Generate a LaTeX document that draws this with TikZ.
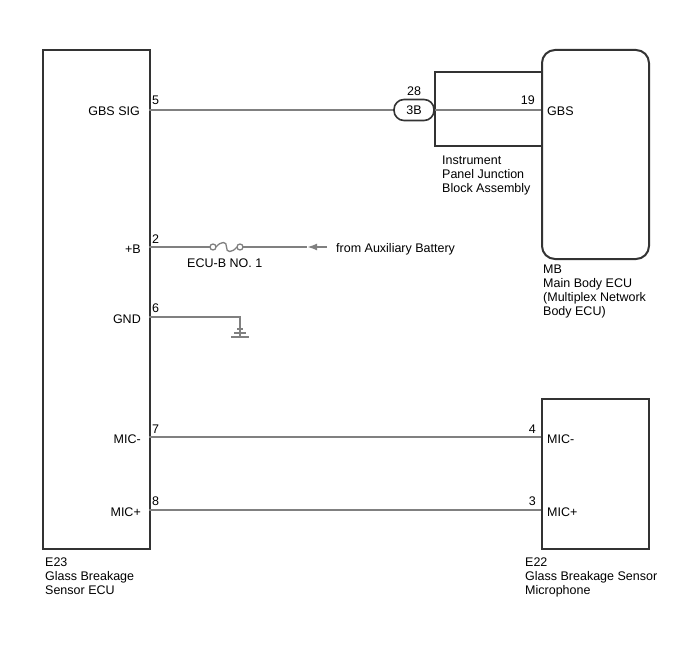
\documentclass[tikz,border=0pt]{standalone}
\usepackage{fontspec}
\setmainfont{Liberation Sans}
\usetikzlibrary{arrows.meta}
\begin{document}
\begin{tikzpicture}[x=1pt,y=-1pt,
  font=\fontsize{12.5}{14.3}\selectfont,
  box/.style={draw=black!80, line width=2pt, inner sep=0pt, anchor=north west},
  wire/.style={draw=black!50, line width=2pt},
  txt/.style={inner sep=0pt, text=black},
  lbl/.style={txt, anchor=base west, align=left}]
\useasboundingbox (0,0) rectangle (688,658);
% boxes
\node[box, minimum width=107pt, minimum height=499pt] (E23) at (42,49) {};
\node[box, minimum width=107pt, minimum height=209pt, rounded corners=13pt] (MB) at (541,49) {};
\node[box, minimum width=107pt, minimum height=150pt] (E22) at (541,398) {};
\node[draw=black!80, line width=1.6pt, rounded corners=10pt, minimum width=40pt, minimum height=21pt, inner sep=0pt] (C3B) at (414,110) {3B};
% junction block
\coordinate (jbtr) at (541,72);
\coordinate (jbtl) at (435,72);
\coordinate (jbbl) at (435,146);
\coordinate (jbbr) at (541,146);
\draw[draw=black!80, line width=2pt] (jbtr) -- (jbtl) -- (jbbl) -- (jbbr);
% pin coordinates
\coordinate (p5) at (149,110);
\coordinate (p2) at (149,247);
\coordinate (p6) at (149,317);
\coordinate (p7) at (149,437);
\coordinate (p8) at (149,510);
\coordinate (p19) at (541,110);
\coordinate (p4) at (541,437);
\coordinate (p3) at (541,510);
% wires
\draw[wire] (p5) -- (C3B.west);
\draw[wire] (C3B.east) -- (p19);
\draw[wire] (p7) -- (p4);
\draw[wire] (p8) -- (p3);
% fuse
\coordinate (f1) at (213,247);
\coordinate (f2) at (240,247);
\coordinate (arrtip) at (307,247);
\coordinate (wend) at (327,247);
\draw[wire] (p2) -- ([xshift=-3pt]f1);
\draw[draw=black!50, line width=1.3pt] (f1) circle (3pt) (f2) circle (3pt);
\draw[draw=black!50, line width=1.3pt] ([xshift=3pt]f1) .. controls (221,241) and (227,241) .. (226.5,247) .. controls (226,253) and (232,253) .. ([xshift=-3pt]f2);
\draw[wire] ([xshift=3pt]f2) -- (arrtip);
\draw[wire, -{Latex[length=10pt,width=7pt]}] (wend) -- (arrtip);
% ground
\coordinate (g1) at (240,317);
\coordinate (g2) at (240,337);
\draw[wire] (p6) -- (g1) -- (g2);
\draw[draw=black!50, line width=1.5pt] ([xshift=-9pt]g2) -- ([xshift=9pt]g2)
  ([shift={(-6pt,4pt)}]g2) -- ([shift={(6pt,4pt)}]g2)
  ([shift={(-3pt,8pt)}]g2) -- ([shift={(3pt,8pt)}]g2);
% pin labels left
\node[txt, anchor=base east] (lGBSSIG) at (140,116) {GBS SIG};
\node[txt, anchor=base east] (lB) at (141,253) {+B};
\node[txt, anchor=base east] (lGND) at (141,323) {GND};
\node[txt, anchor=base east] (lMICm) at (141,443) {MIC-};
\node[txt, anchor=base east] (lMICp) at (141,516) {MIC+};
% pin numbers left
\node[lbl] (n5) at (152,105) {5};
\node[lbl] (n2) at (152,243) {2};
\node[lbl] (n6) at (152,312) {6};
\node[lbl] (n7) at (152,433) {7};
\node[lbl] (n8) at (152,505) {8};
% pin numbers right
\node[txt, anchor=base east] (n19) at (535,105) {19};
\node[txt, anchor=base east] (n4) at (536,433) {4};
\node[txt, anchor=base east] (n3) at (536,505) {3};
\node[txt, anchor=base] (n28) at (414,96) {28};
% right labels
\node[lbl] (lGBS) at (547,116) {GBS};
\node[lbl] (rMICm) at (547,443) {MIC-};
\node[lbl] (rMICp) at (547,516) {MIC+};
% misc labels (base = last line)
\node[lbl] (fuselbl) at (187,267) {ECU-B NO. 1};
\node[lbl] (battlbl) at (336,252) {from Auxiliary Battery};
\node[lbl] (jblbl) at (442,192.6) {Instrument\\Panel Junction\\Block Assembly};
\node[lbl] (mblbl) at (543,315.9) {MB\\Main Body ECU\\(Multiplex Network\\Body ECU)};
\node[lbl] (e23lbl) at (45,594.6) {E23\\Glass Breakage\\Sensor ECU};
\node[lbl] (e22lbl) at (525,594.6) {E22\\Glass Breakage Sensor\\Microphone};
\end{tikzpicture}
\end{document}
